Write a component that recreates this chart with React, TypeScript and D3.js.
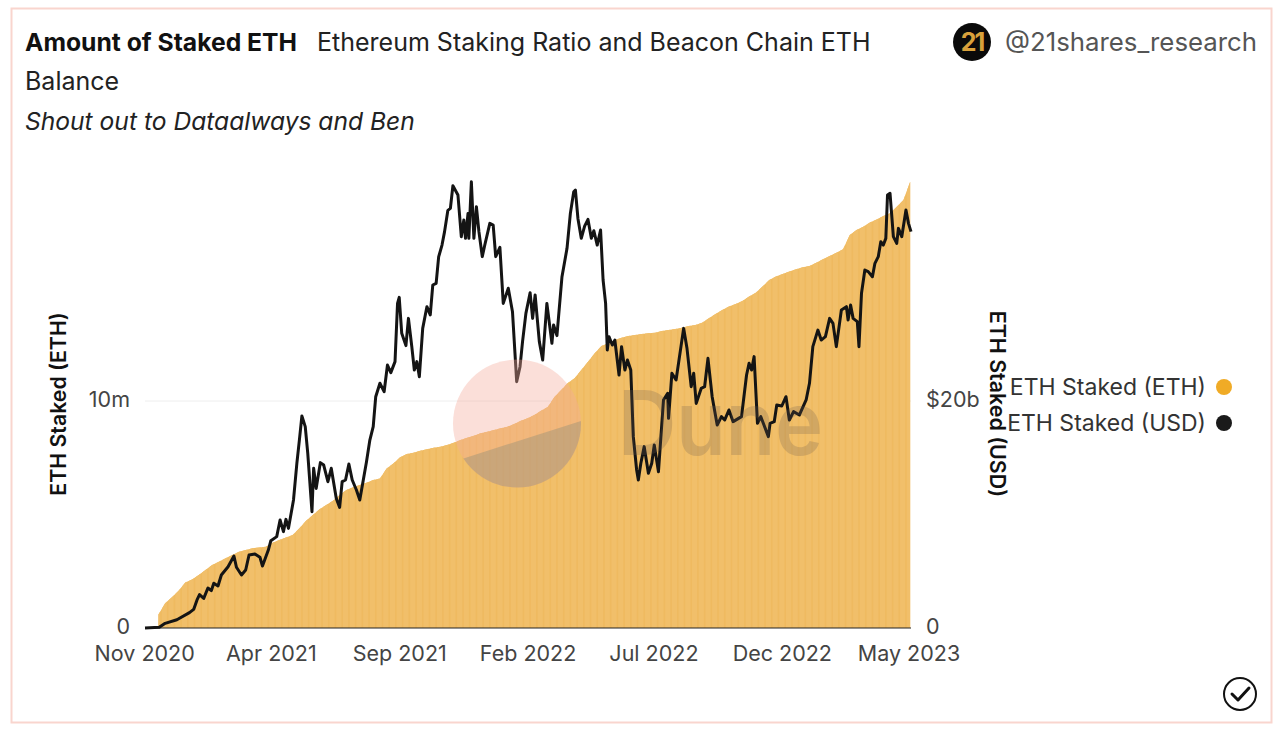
import React, { useRef, useEffect } from 'react';
import * as d3 from 'd3';

const launchDate = new Date(Date.UTC(2020, 10, 2));
const endDate = new Date(Date.UTC(2023, 4, 4));

const xTickDates = [
  new Date(Date.UTC(2020, 10, 1)),
  new Date(Date.UTC(2021, 3, 1)),
  new Date(Date.UTC(2021, 8, 1)),
  new Date(Date.UTC(2022, 1, 1)),
  new Date(Date.UTC(2022, 6, 1)),
  new Date(Date.UTC(2022, 11, 1)),
  new Date(Date.UTC(2023, 4, 1)),
];
const ethTicks = [0, 10];
const usdTicks = [0, 20];

// ETH balance, one reading every 8 days from launch (millions of ETH)
const ethStaked = [
  0, 0, 0.6, 1.09, 1.35, 1.64, 2.0, 2.14, 2.33, 2.56, 2.78, 2.92, 3.07, 3.22, 3.36, 3.44,
  3.51, 3.55, 3.58, 3.76, 3.88, 3.99, 4.1, 4.39, 4.73, 4.98, 5.23, 5.42, 5.61, 5.86, 6.08, 6.2,
  6.3, 6.4, 6.52, 6.59, 7.03, 7.25, 7.52, 7.67, 7.72, 7.81, 7.87, 7.94, 7.99, 8.06, 8.16, 8.28,
  8.38, 8.47, 8.58, 8.65, 8.72, 8.8, 8.87, 8.99, 9.13, 9.24, 9.38, 9.57, 9.74, 10.18, 10.48, 10.79,
  11.0, 11.37, 11.73, 12.1, 12.42, 12.54, 12.69, 12.79, 12.86, 12.91, 12.95, 12.98, 13.01, 13.08, 13.13, 13.17,
  13.23, 13.3, 13.35, 13.45, 13.64, 13.83, 14.01, 14.16, 14.27, 14.41, 14.6, 14.77, 15.04, 15.33, 15.48, 15.6,
  15.7, 15.8, 15.89, 15.95, 16.09, 16.24, 16.39, 16.53, 16.68, 17.31, 17.53, 17.68, 17.86, 18.0, 18.15, 18.27,
  18.56, 18.85, 19.66,
];
const ethStepDays = 8;

// USD value of the balance: days since launch and $ billions
const usdDays = [
  0, 17, 24, 38, 53, 58, 62, 65, 70, 75, 79, 82, 87, 91, 99, 106, 109, 115, 120, 124,
  131, 137, 140, 147, 150, 157, 161, 165, 168, 171, 177, 181, 184, 187, 191, 194, 199, 201, 204, 209,
  213, 218, 222, 228, 232, 235, 239, 243, 247, 252, 256, 264, 268, 272, 275, 280, 285, 289, 293, 298,
  301, 303, 306, 311, 314, 318, 321, 324, 327, 331, 336, 340, 343, 347, 350, 354, 357, 361, 364, 367,
  373, 377, 380, 382, 385, 386, 389, 392, 395, 398, 402, 405, 411, 415, 418, 423, 427, 433, 438, 443,
  447, 450, 454, 459, 462, 465, 470, 474, 479, 485, 487, 491, 497, 503, 507, 511, 513, 516, 520, 524,
  528, 532, 535, 539, 543, 546, 549, 551, 553, 557, 560, 565, 568, 572, 575, 579, 582, 586, 588, 591,
  595, 600, 604, 607, 612, 618, 623, 624, 628, 633, 642, 646, 651, 654, 657, 663, 667, 671, 676, 682,
  687, 691, 696, 701, 711, 717, 720, 723, 726, 730, 734, 743, 745, 750, 753, 759, 764, 768, 773, 780,
  788, 792, 796, 802, 806, 811, 816, 820, 824, 830, 836, 838, 841, 844, 849, 851, 854, 858, 862, 867,
  870, 874, 877, 880, 883, 885, 888, 892, 896, 898, 902, 907, 910, 913,
];
const usdStaked = [
  0, 0.06, 0.41, 0.73, 1.35, 1.64, 2.47, 2.94, 2.61, 3.52, 3.29, 3.94, 3.7, 4.67, 5.4, 6.34, 5.35, 4.67, 5.11, 6.43,
  6.52, 6.23, 5.46, 6.87, 7.69, 8.05, 9.52, 8.49, 9.57, 8.78, 11.28, 14.51, 16.56, 18.68, 17.74, 15.39, 10.25, 14.07, 12.3, 14.57,
  14.36, 12.89, 14.07, 11.42, 10.63, 12.89, 13.04, 14.45, 13.04, 12.16, 11.28, 14.65, 16.56, 17.74, 20.38, 21.56, 20.82, 23.17, 22.5, 23.47,
  28.6, 29.13, 25.96, 24.88, 27.28, 24.79, 22.73, 23.47, 22.14, 26.4, 28.31, 27.58, 30.22, 30.37, 32.7, 33.74, 34.9, 36.8, 36.97, 38.97,
  38.15, 34.48, 35.95, 34.33, 36.53, 34.33, 39.32, 34.33, 37.12, 34.92, 32.72, 33.74, 35.65, 35.5, 32.72, 33.54, 28.6, 29.93, 27.87, 21.7,
  23.02, 25.23, 27.72, 29.54, 27.28, 29.34, 25.23, 23.61, 28.6, 25.08, 26.7, 25.76, 30.95, 33.45, 36.53, 38.44, 38.59, 36.09, 34.33, 35.4,
  36.0, 34.33, 35.0, 33.74, 35.07, 30.66, 28.6, 24.49, 25.67, 24.93, 25.37, 22.29, 24.79, 22.73, 23.61, 22.73, 16.86, 13.92, 13.04, 14.51,
  15.98, 13.63, 14.51, 16.12, 13.77, 20.09, 20.68, 18.47, 22.44, 21.85, 26.4, 24.64, 21.26, 22.44, 19.79, 21.12, 21.26, 23.76, 20.38, 17.89,
  18.62, 18.33, 19.21, 18.18, 18.62, 22.29, 23.32, 22.73, 23.91, 18.03, 18.62, 16.86, 18.03, 18.18, 19.65, 19.56, 20.38, 18.33, 19.06, 18.77,
  20.09, 21.56, 24.79, 26.25, 25.37, 25.67, 27.28, 26.84, 24.79, 28.02, 28.31, 27.14, 28.46, 27.28, 26.99, 24.79, 29.49, 31.54, 31.4, 30.95,
  32.13, 32.72, 34.04, 33.74, 34.33, 38.15, 38.3, 34.48, 33.89, 35.21, 34.48, 36.83, 35.65, 34.92,
];

const legendItems = [
  { label: 'ETH Staked (ETH)', color: '#f0ab26', y: 387 },
  { label: 'ETH Staked (USD)', color: '#1a1a1a', y: 423 },
];

const App: React.FC = () => {
  const svgRef = useRef<SVGSVGElement>(null);

  useEffect(() => {
    if (!svgRef.current) return;
    const svg = d3.select(svgRef.current);
    svg.selectAll('*').remove();

    const font = 'Inter, "Noto Sans", sans-serif';
    const left = 145, right = 911, bottom = 628;

    const x = d3.scaleUtc().domain([launchDate, endDate]).range([left, right]);
    const yEth = d3.scaleLinear().domain([0, 20]).range([bottom, 174]);
    const yUsd = d3.scaleLinear().domain([0, 40]).range([bottom, 174]);

    const ethDate = (i: number) => d3.utcDay.offset(launchDate, i * ethStepDays);
    const usdDate = (i: number) => d3.utcDay.offset(launchDate, usdDays[i]);

    // frame
    svg.append('rect')
      .attr('x', 11.5).attr('y', 8.5).attr('width', 1260).attr('height', 714)
      .attr('fill', '#fff').attr('stroke', '#f9d5ce').attr('stroke-width', 2);

    // title block
    const title = svg.append('text').attr('x', 25).attr('y', 51)
      .style('font-family', font).style('font-size', '25px').attr('fill', '#222');
    title.append('tspan').attr('font-weight', 700).style('font-size', '24.7px').attr('fill', '#111').text('Amount of Staked ETH');
    title.append('tspan').attr('x', 317).text('Ethereum Staking Ratio and Beacon Chain ETH');
    svg.append('text').attr('x', 25).attr('y', 90)
      .style('font-family', font).style('font-size', '25px').attr('fill', '#222').text('Balance');
    svg.append('text').attr('x', 25).attr('y', 130)
      .style('font-family', font).style('font-size', '24.6px').style('font-style', 'italic')
      .attr('fill', '#222').text('Shout out to Dataalways and Ben');

    // brand
    svg.append('circle').attr('cx', 972).attr('cy', 42).attr('r', 19).attr('fill', '#0a0a0a');
    svg.append('text').attr('x', 972).attr('y', 51).attr('text-anchor', 'middle')
      .style('font-family', font).style('font-size', '25px').style('font-weight', 700)
      .style('letter-spacing', '-2px').attr('fill', '#d9a13b').text('21');
    svg.append('text').attr('x', 1005).attr('y', 51)
      .style('font-family', font).style('font-size', '25.8px').attr('fill', '#555').text('@21shares_research');

    // gridline
    svg.append('line')
      .attr('x1', left).attr('x2', right).attr('y1', yEth(10)).attr('y2', yEth(10))
      .attr('stroke', '#eeeeee').attr('stroke-width', 1);

    // eth balance: bars clipped to the area, the area showing through as faint stripes
    const stepWidth = x(ethDate(1)) - x(ethDate(0));
    const firstBar = ethStaked.findIndex((d) => d > 0);
    const areaPath = d3.area<number>()
      .defined((_, i) => i >= firstBar)
      .x((_, i) => x(ethDate(i)))
      .y0(bottom)
      .y1((d) => yEth(d))(ethStaked) as string;
    svg.append('defs').append('clipPath').attr('id', 'ethArea')
      .append('path').attr('d', areaPath);
    svg.append('defs').append('clipPath').attr('id', 'plot')
      .append('rect').attr('x', left).attr('y', 160).attr('width', right - left).attr('height', bottom - 160);
    const plot = svg.append('g').attr('clip-path', 'url(#plot)');
    plot.append('path').attr('d', areaPath).attr('fill', '#efba60');
    plot.append('g').attr('clip-path', 'url(#ethArea)')
      .selectAll('rect').data(ethStaked).join('rect')
      .attr('x', (_, i) => x(ethDate(i)) - stepWidth / 2)
      .attr('width', stepWidth - 1.6)
      .attr('y', (d) => yEth(d) - stepWidth)
      .attr('height', (d) => bottom - yEth(d) + stepWidth)
      .attr('fill', '#f1bf6a');

    // baseline
    svg.append('line')
      .attr('x1', left).attr('x2', right).attr('y1', bottom).attr('y2', bottom)
      .attr('stroke', '#222').attr('stroke-width', 1);

    // usd line
    const line = d3.line<number>()
      .x((_, i) => x(usdDate(i)))
      .y((d) => yUsd(d));
    svg.append('path').datum(usdStaked)
      .attr('fill', 'none').attr('stroke', '#141414').attr('stroke-width', 3)
      .attr('stroke-linejoin', 'round')
      .attr('d', line);

    // watermark
    svg.append('defs').append('clipPath').attr('id', 'duneDisc')
      .append('circle').attr('cx', 517).attr('cy', 423.5).attr('r', 64);
    svg.append('circle').attr('cx', 517).attr('cy', 423.5).attr('r', 64)
      .attr('fill', '#f5ab9b').attr('fill-opacity', 0.38);
    svg.append('path').attr('clip-path', 'url(#duneDisc)')
      .attr('d', 'M440,465 L465,458 L590,418 L590,500 L440,500 Z')
      .attr('fill', '#948f76').attr('fill-opacity', 0.42);
    svg.append('text').attr('x', 618).attr('y', 455)
      .attr('textLength', 205).attr('lengthAdjust', 'spacingAndGlyphs')
      .style('font-family', font).style('font-size', '89px').style('font-weight', 600)
      .attr('fill', '#6e5a50').attr('fill-opacity', 0.24).text('Dune');

    // axes
    const styleAxis = (g: d3.Selection<SVGGElement, unknown, null, undefined>) => {
      g.select('.domain').remove();
      g.selectAll('.tick line').remove();
      g.selectAll('text')
        .style('font-family', font).style('font-size', '21.5px').attr('fill', '#444');
    };
    svg.append('g').attr('transform', `translate(0,${bottom + 15})`)
      .call(d3.axisBottom(x).tickValues(xTickDates).tickSize(0).tickFormat((d) => d3.utcFormat('%b %Y')(d as Date)))
      .call(styleAxis);
    svg.append('g').attr('transform', 'translate(130,-1)')
      .call(d3.axisLeft(yEth).tickValues(ethTicks).tickSize(0).tickPadding(0).tickFormat((d) => (+d === 0 ? '0' : `${d}m`)))
      .call(styleAxis);
    svg.append('g').attr('transform', 'translate(926,-1)')
      .call(d3.axisRight(yUsd).tickValues(usdTicks).tickSize(0).tickPadding(0).tickFormat((d) => (+d === 0 ? '0' : `$${d}b`)))
      .call(styleAxis);

    // axis titles
    svg.append('text').attr('transform', 'translate(59,404) rotate(-90)')
      .attr('text-anchor', 'middle').attr('dy', '0.35em')
      .style('font-family', font).style('font-size', '21.3px').style('font-weight', 600)
      .attr('fill', '#111').text('ETH Staked (ETH)');
    svg.append('text').attr('transform', 'translate(997,404) rotate(90)')
      .attr('text-anchor', 'middle').attr('dy', '0.35em')
      .style('font-family', font).style('font-size', '21.4px').style('font-weight', 600)
      .attr('fill', '#111').text('ETH Staked (USD)');

    // legend
    const legend = svg.append('g');
    legendItems.forEach((item) => {
      legend.append('text').attr('x', 1206).attr('y', item.y).attr('dy', '0.35em')
        .attr('text-anchor', 'end')
        .style('font-family', font).style('font-size', '23px').attr('fill', '#333').text(item.label);
      legend.append('circle').attr('cx', 1224).attr('cy', item.y).attr('r', 8).attr('fill', item.color);
    });

    // check mark
    svg.append('circle').attr('cx', 1240).attr('cy', 694).attr('r', 16)
      .attr('fill', 'none').attr('stroke', '#111').attr('stroke-width', 2);
    svg.append('path').attr('d', 'M1232,694 L1238,700 L1249,688')
      .attr('fill', 'none').attr('stroke', '#111').attr('stroke-width', 3)
      .attr('stroke-linecap', 'round').attr('stroke-linejoin', 'round');
  }, []);

  return (
    <svg
      ref={svgRef}
      width={1280}
      height={733}
      style={{ position: 'absolute', left: 0, top: 0, background: '#fff' }}
    />
  );
};

export default App;
